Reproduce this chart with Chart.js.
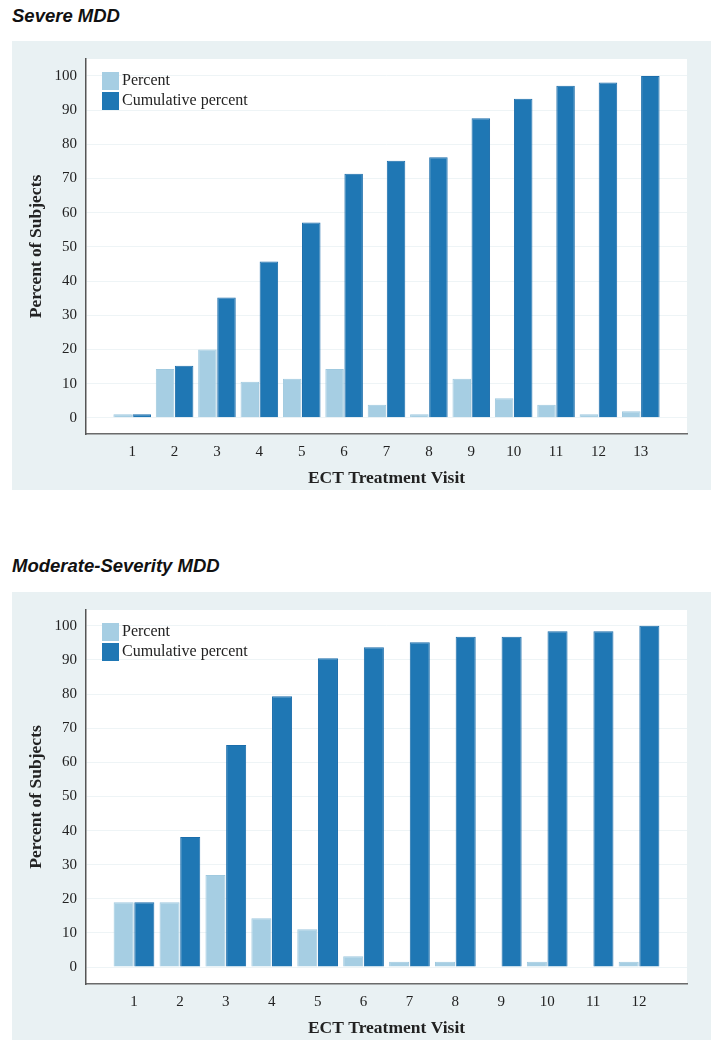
<!DOCTYPE html>
<html>
<head>
<meta charset="utf-8">
<script src="https://cdn.jsdelivr.net/npm/chart.js@4.4.0/dist/chart.umd.min.js"></script>
<style>
    body { margin: 0; background: #fff; width: 722px; height: 1050px; position: relative; }
    .ptitle { position: absolute; left: 12px; font: italic bold 18.5px "Liberation Sans", Arial, sans-serif; color: #111; }
    .panel { position: absolute; left: 12px; width: 699px; background: #e9f1f3; }
    .panel canvas { position: absolute; left: 0; top: 0; }
</style>
</head>
<body>
<div class="ptitle" style="top:5px">Severe MDD</div>
<div class="panel" style="top:41px;height:449px"><canvas id="severe" width="699" height="449"></canvas></div>
<div class="ptitle" style="top:555px">Moderate-Severity MDD</div>
<div class="panel" style="top:592px;height:448px"><canvas id="moderate" width="699" height="448"></canvas></div>
<script>
    // Severe MDD
    const severeVisits = [1, 2, 3, 4, 5, 6, 7, 8, 9, 10, 11, 12, 13];
    const severePercent = [1.0, 14.3, 20.0, 10.5, 11.4, 14.3, 3.8, 1.0, 11.4, 5.7, 3.8, 1.0, 1.9];
    const severeCumulative = [1.0, 15.2, 35.2, 45.7, 57.1, 71.4, 75.2, 76.2, 87.6, 93.3, 97.1, 98.1, 100.0];

    // Moderate-severity MDD
    const moderateVisits = [1, 2, 3, 4, 5, 6, 7, 8, 9, 10, 11, 12];
    const moderatePercent = [19.0, 19.0, 27.0, 14.3, 11.1, 3.2, 1.6, 1.6, 0, 1.6, 0, 1.6];
    const moderateCumulative = [19.0, 38.1, 65.1, 79.4, 90.5, 93.7, 95.2, 96.8, 96.8, 98.4, 98.4, 100.0];

    const yTicks = [0, 10, 20, 30, 40, 50, 60, 70, 80, 90, 100];
    const seriesNames = ["Percent", "Cumulative percent"];

    const lightBlue = "#a6cee3";
    const darkBlue = "#1f77b4";
    const serif = "'Liberation Serif', 'Times New Roman', serif";

    // white plot area + legend drawn inside the plot, top-left
    const plotArea = {
        id: "plotArea",
        beforeDraw(chart) {
            const a = chart.chartArea, ctx = chart.ctx;
            ctx.save();
            ctx.fillStyle = "#fff";
            ctx.fillRect(a.left, a.top, a.right - a.left, a.bottom - a.top);
            ctx.restore();
        },
        afterDraw(chart) {
            const a = chart.chartArea, ctx = chart.ctx;
            ctx.save();
            ctx.font = "16px " + serif;
            ctx.textBaseline = "middle";
            chart.data.datasets.forEach((ds, i) => {
                const x = a.left + 16, y = a.top + 13 + i * 20;
                ctx.fillStyle = ds.backgroundColor;
                ctx.fillRect(x, y, 17, 18);
                ctx.fillStyle = "#222";
                ctx.fillText(ds.label, x + 20, y + 9);
            });
            ctx.restore();
        }
    };

    function makeChart(id, visits, percent, cumulative, yMin, yMax, topPad, side) {
        const pts = arr => visits.map((v, i) => ({x: v, y: arr[i]}));
        return new Chart(document.getElementById(id), {
            type: "bar",
            data: {
                datasets: [{
                    label: seriesNames[0],
                    data: pts(percent),
                    backgroundColor: lightBlue,
                    borderColor: "#9fc9df",
                    borderWidth: 1
                }, {
                    label: seriesNames[1],
                    data: pts(cumulative),
                    backgroundColor: darkBlue,
                    borderColor: "#1b6dab",
                    borderWidth: 1
                }]
            },
            options: {
                responsive: false,
                animation: false,
                devicePixelRatio: 1,
                layout: {padding: {top: topPad, right: 24, left: 0, bottom: 0}},
                categoryPercentage: 0.9,
                barPercentage: 0.97,
                plugins: {legend: {display: false}, tooltip: {enabled: false}},
                scales: {
                    x: {
                        type: "linear",
                        offset: false,
                        min: 1 - side,
                        max: visits.length + side,
                        afterBuildTicks: s => { s.ticks = visits.map(v => ({value: v})); },
                        afterFit: s => { s.height = 56; },
                        grid: {display: false, drawTicks: false},
                        border: {display: true, color: "#6b6b6b", width: 1.5},
                        ticks: {
                            padding: 9, maxRotation: 0, autoSkip: false,
                            color: "#222", font: {family: serif, size: 15}
                        },
                        title: {
                            display: true, text: "ECT Treatment Visit", color: "#222",
                            font: {family: serif, size: 17.5, weight: "bold"},
                            padding: {top: 0, bottom: 1}
                        }
                    },
                    y: {
                        min: yMin,
                        max: yMax,
                        afterBuildTicks: s => { s.ticks = yTicks.map(v => ({value: v})); },
                        afterFit: s => { s.width = 74; },
                        grid: {color: "#eef4f6", lineWidth: 1, drawTicks: false},
                        border: {display: true, color: "#555", width: 1.5},
                        ticks: {padding: 9, color: "#222", font: {family: serif, size: 15}},
                        title: {
                            display: true, text: "Percent of Subjects", color: "#222",
                            font: {family: serif, size: 17.5, weight: "bold"},
                            padding: {top: 14, bottom: 0}
                        }
                    }
                }
            },
            plugins: [plotArea]
        });
    }

    makeChart("severe", severeVisits, severePercent, severeCumulative, -4.75, 104.95, 16, 1.09);
    makeChart("moderate", moderateVisits, moderatePercent, moderateCumulative, -4.95, 104.65, 15, 1.045);
</script>
</body>
</html>
